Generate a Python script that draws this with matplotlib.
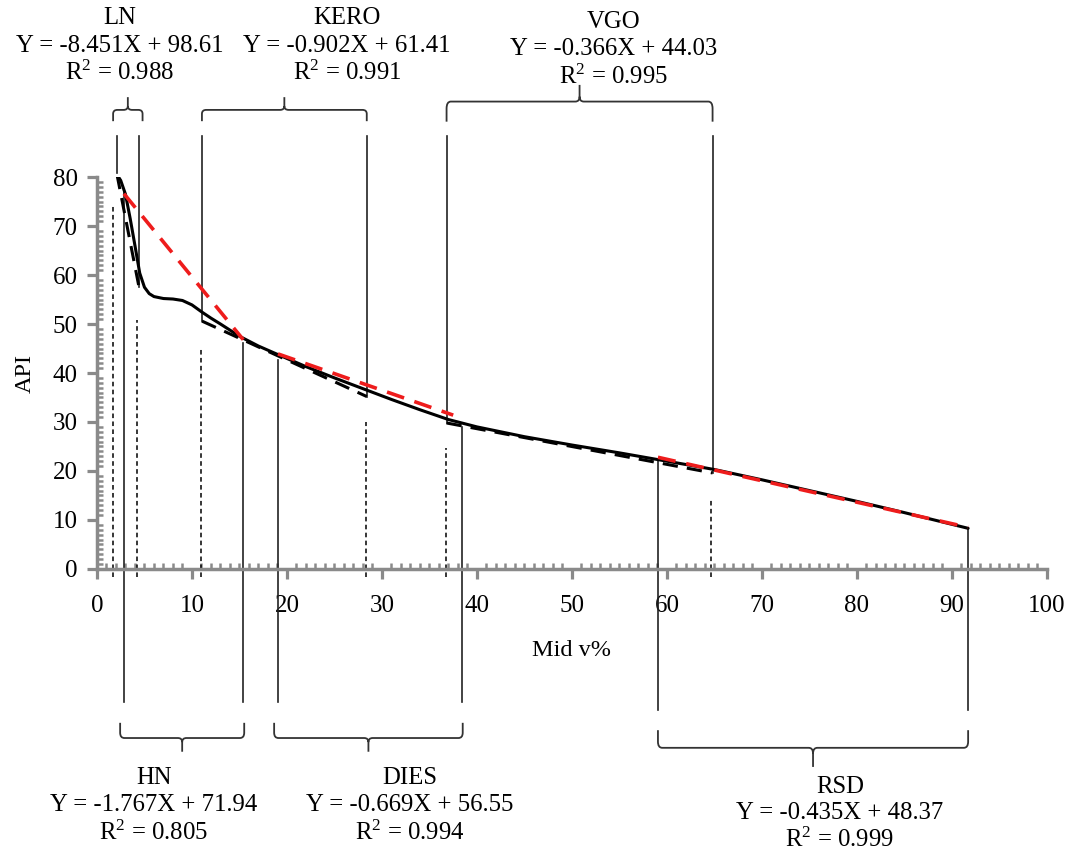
import numpy as np
import matplotlib.pyplot as plt
from matplotlib.path import Path
from matplotlib.patches import PathPatch
from matplotlib.ticker import MultipleLocator

plt.rcParams['font.family'] = ['Liberation Serif', 'DejaVu Serif']
plt.rcParams['mathtext.fontset'] = 'custom'
plt.rcParams['mathtext.rm'] = 'Liberation Serif'
plt.rcParams['mathtext.it'] = 'Liberation Serif:italic'

# measured API curve
mid_v = [2.0, 2.5, 3.0, 3.5, 4.0, 4.5, 5.0, 5.5, 6.0, 7.0, 8.0, 9.0, 10.0, 11.0,
         12.0, 13.0, 15.0, 17.0, 19.0, 22.0, 25.0, 28.0, 31.0, 34.0, 37.0, 40.0,
         45.0, 50.0, 55.0, 60.0, 65.0, 70.0, 75.0, 80.0, 85.0, 91.7]
api = [80.8, 79.3, 76.5, 71.5, 66.0, 60.4, 57.5, 56.2, 55.6, 55.2, 55.1, 54.8, 53.9, 52.5,
       51.2, 50.0, 47.5, 45.5, 43.8, 41.3, 39.0, 36.8, 34.6, 32.5, 30.5, 29.0,
       27.0, 25.3, 23.7, 22.0, 20.3, 18.2, 16.0, 13.8, 11.5, 8.3]

# cut segments
cuts = ["LN", "HN", "KERO", "DIES", "VGO", "RSD"]
cut_start = [2.1, 2.84, 11.05, 19.05, 36.8, 59.05]
cut_end = [4.4, 15.4, 28.4, 38.4, 64.8, 91.7]
slopes = ["-8.451", "-1.767", "-0.902", "-0.669", "-0.366", "-0.435"]
intercepts = ["98.61", "71.94", "61.41", "56.55", "44.03", "48.37"]
r2 = ["0.988", "0.805", "0.991", "0.994", "0.995", "0.999"]
side = ["top", "bottom", "top", "bottom", "top", "bottom"]
# fitted line end points (x0, y0, x1, y1)
fit_x0 = [2.1, 2.84, 11.05, 19.05, 36.8, 59.05]
fit_y0 = [80.6, 76.6, 50.6, 43.9, 29.8, 22.8]
fit_x1 = [4.4, 15.4, 28.4, 37.5, 64.8, 91.7]
fit_y1 = [57.8, 46.8, 35.2, 31.4, 19.6, 8.5]
# where the boundary lines meet the curve
line_y0 = [80.8, 76.7, 50.6, 42.7, 29.8, 22.0]
line_y1 = [57.6, 46.2, 35.2, 29.0, 19.6, 8.3]
# short dashed guides from the x axis
guide_x = [1.65, 4.2, 11.0, 28.3, 36.7, 64.6]
guide_top = [74.0, 50.8, 45.0, 29.9, 24.7, 14.0]

# label centres
label_x = [2.4, 6.0, 26.3, 32.9, 54.4, 78.2]

fig = plt.figure(figsize=(10.69, 8.56), dpi=100)
ax = fig.add_axes([0.0907, 0.3353, 0.8887, 0.4579])
ax.set_xlim(0, 100)
ax.set_ylim(0, 80)

ax.plot(mid_v, api, color='black', lw=2.2, solid_capstyle='round', zorder=4)

for i, c in enumerate(cuts):
    if side[i] == "top":
        ax.plot([fit_x0[i], fit_x1[i]], [fit_y0[i], fit_y1[i]], color='black',
                lw=2.2, dashes=(5, 3), zorder=3)
    else:
        ax.plot([fit_x0[i], fit_x1[i]], [fit_y0[i], fit_y1[i]], color='#ee1c1c',
                lw=2.6, dashes=(5, 3), zorder=5)

for gx, gt in zip(guide_x, guide_top):
    ax.plot([gx, gx], [-1.6, gt], color='black', lw=1.1, dashes=(3, 2.2),
            clip_on=False, zorder=2)


def brace(x0, x1, y_leg, y_bar, y_tip):
    xc = (x0 + x1) / 2
    rx = 0.45
    ry = (y_bar - y_leg) * 0.35
    ty = (y_tip - y_bar) * 0.3
    verts = [(x0, y_leg), (x0, y_bar - ry), (x0, y_bar), (x0 + rx, y_bar),
             (xc - rx, y_bar), (xc, y_bar), (xc, y_bar + ty), (xc, y_tip),
             (xc, y_bar + ty), (xc, y_bar), (xc + rx, y_bar),
             (x1 - rx, y_bar), (x1, y_bar), (x1, y_bar - ry), (x1, y_leg)]
    codes = [Path.MOVETO, Path.LINETO, Path.CURVE3, Path.CURVE3,
             Path.LINETO, Path.CURVE3, Path.CURVE3, Path.LINETO,
             Path.MOVETO, Path.CURVE3, Path.CURVE3,
             Path.LINETO, Path.CURVE3, Path.CURVE3, Path.LINETO]
    ax.add_patch(PathPatch(Path(verts, codes), fill=False, edgecolor='#333333',
                           lw=1.3, clip_on=False))


txt = dict(ha='center', va='center', fontsize=17.8, clip_on=False)
for i, c in enumerate(cuts):
    xs, xe = cut_start[i], cut_end[i]
    if side[i] == "top":
        ax.plot([xs, xs], [88.4, line_y0[i]], color='#222222', lw=1.2, clip_on=False)
        ax.plot([xe, xe], [88.4, line_y1[i]], color='#222222', lw=1.2, clip_on=False)
        if c == "VGO":
            brace(xs, xe, 91.3, 95.4, 98.8)
            ys = [111.7, 106.1, 100.4]
        else:
            pad = 0.4 if c == "LN" else 0.0
            brace(xs - pad, xe + pad, 91.4, 93.7, 96.3)
            ys = [112.4, 106.7, 101.2]
    else:
        if c == "RSD":
            bot = -28.8
            ys = [-44.5, -49.8, -55.3]
        else:
            bot = -27.1
            ys = [-42.7, -48.2, -53.9]
        ax.plot([xs, xs], [line_y0[i], bot], color='#222222', lw=1.2, clip_on=False)
        ax.plot([xe, xe], [line_y1[i], bot], color='#222222', lw=1.2, clip_on=False)
        if c == "RSD":
            brace(xs, xe, -32.9, -36.5, -40.4)
        else:
            brace(xs - 0.4, xe + 0.1, -31.4, -34.5, -37.3)
    ax.text(label_x[i], ys[0], c, **txt)
    ax.text(label_x[i], ys[1], f"Y = {slopes[i]}X + {intercepts[i]}", **txt)
    ax.text(label_x[i], ys[2], f"R$^{{2}}$ = {r2[i]}", **txt)

grey = '#8a8a8a'
for s in ['top', 'right']:
    ax.spines[s].set_visible(False)
for s in ['left', 'bottom']:
    ax.spines[s].set_color(grey)
    ax.spines[s].set_linewidth(2.5)

ax.xaxis.set_major_locator(MultipleLocator(10))
ax.yaxis.set_major_locator(MultipleLocator(10))
ax.xaxis.set_minor_locator(MultipleLocator(1))
ax.yaxis.set_minor_locator(MultipleLocator(1))
ax.tick_params(which='major', direction='out', length=7, width=2.3, color=grey,
               labelsize=18, labelcolor='black')
ax.tick_params(axis='x', which='major', pad=12)
ax.tick_params(axis='y', which='major', pad=7)
ax.tick_params(which='minor', direction='in', length=4.5, width=1.8, color=grey)

ax.set_xlabel("Mid v%", fontsize=17.5, labelpad=16)
ax.set_ylabel("API", fontsize=17.5, labelpad=12)

fig.savefig("out.png", dpi=100)
